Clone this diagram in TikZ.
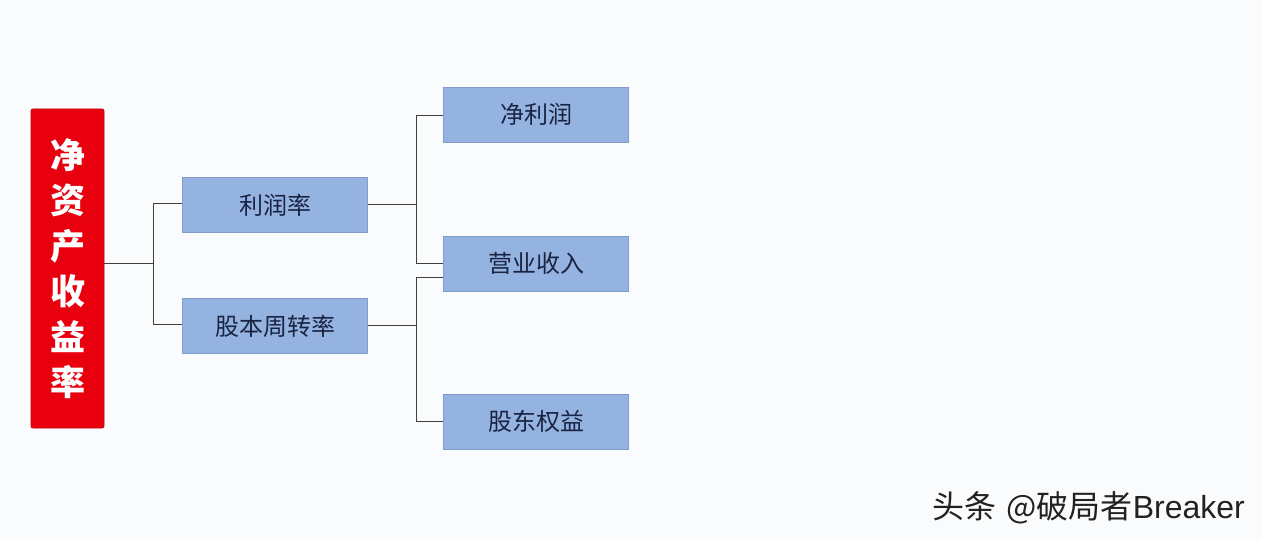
\documentclass[tikz,border=0pt]{standalone}
\usepackage{fontspec}
\newfontfamily\cjk{Noto Sans CJK SC}
\newfontfamily\latin{Liberation Sans}
\definecolor{bgc}{HTML}{FAFBFD}
\definecolor{boxfill}{HTML}{95B3E0}
\definecolor{boxedge}{HTML}{7F9CCB}
\definecolor{boxtext}{HTML}{1A2442}
\definecolor{redfill}{HTML}{E8000F}
\definecolor{linec}{HTML}{404040}
\definecolor{wmark}{HTML}{222222}
\tikzset{
  bluebox/.style={draw=boxedge, line width=0.8pt, fill=boxfill, minimum width=185pt, minimum height=55pt, inner sep=0pt, font=\cjk\fontsize{24}{27}\selectfont, text=boxtext},
  redbox/.style={draw=redfill!85!black, line width=0.8pt, fill=redfill, rounded corners=2pt, minimum width=73pt, minimum height=319pt, inner sep=0pt, font=\cjk\bfseries\fontsize{35}{45.5}\selectfont, text=white, align=center},
  conn/.style={draw=linec, line width=0.8pt}
}
\begin{document}
\begin{tikzpicture}[x=1pt,y=-1pt]
\fill[bgc] (0,0) rectangle (1262,540);
\useasboundingbox (0,0) rectangle (1262,540);
\node[redbox] (roe) at (67.5,268.5) {净\\资\\产\\收\\益\\率};
\node[bluebox] (pm) at (275,205) {利润率};
\node[bluebox] (to) at (275,326) {股本周转率};
\node[bluebox] (np) at (536,114.5) {净利润};
\node[bluebox] (rev) at (536,263.5) {营业收入};
\node[bluebox] (eq) at (536,421.5) {股东权益};
\coordinate (j1) at (153,263);
\coordinate (j2) at (416,204);
\coordinate (j3) at (416,325);
% root to level 1
\draw[conn] (roe.east |- j1) -- (j1);
\draw[conn] (pm.west |- 0,203) -| (j1 |- 0,203) -- (j1);
\draw[conn] (to.west |- 0,324) -| (j1 |- 0,324) -- (j1);
% profit margin branch
\draw[conn] (pm.east |- j2) -- (j2);
\draw[conn] (np.west |- 0,115) -| (j2 |- 0,115) -- (j2 |- 0,263) -- (rev.west |- 0,263);
% turnover branch
\draw[conn] (to.east |- j3) -- (j3);
\draw[conn] (rev.west |- 0,277) -| (j3 |- 0,277) -- (j3 |- 0,421) -- (eq.west |- 0,421);
\node[font=\cjk\fontsize{32}{35}\selectfont, text=wmark, anchor=east, inner sep=0pt] (wm) at (1245,508) {头条\hspace{10pt}@破局者{\latin Breaker}};
\end{tikzpicture}
\end{document}
